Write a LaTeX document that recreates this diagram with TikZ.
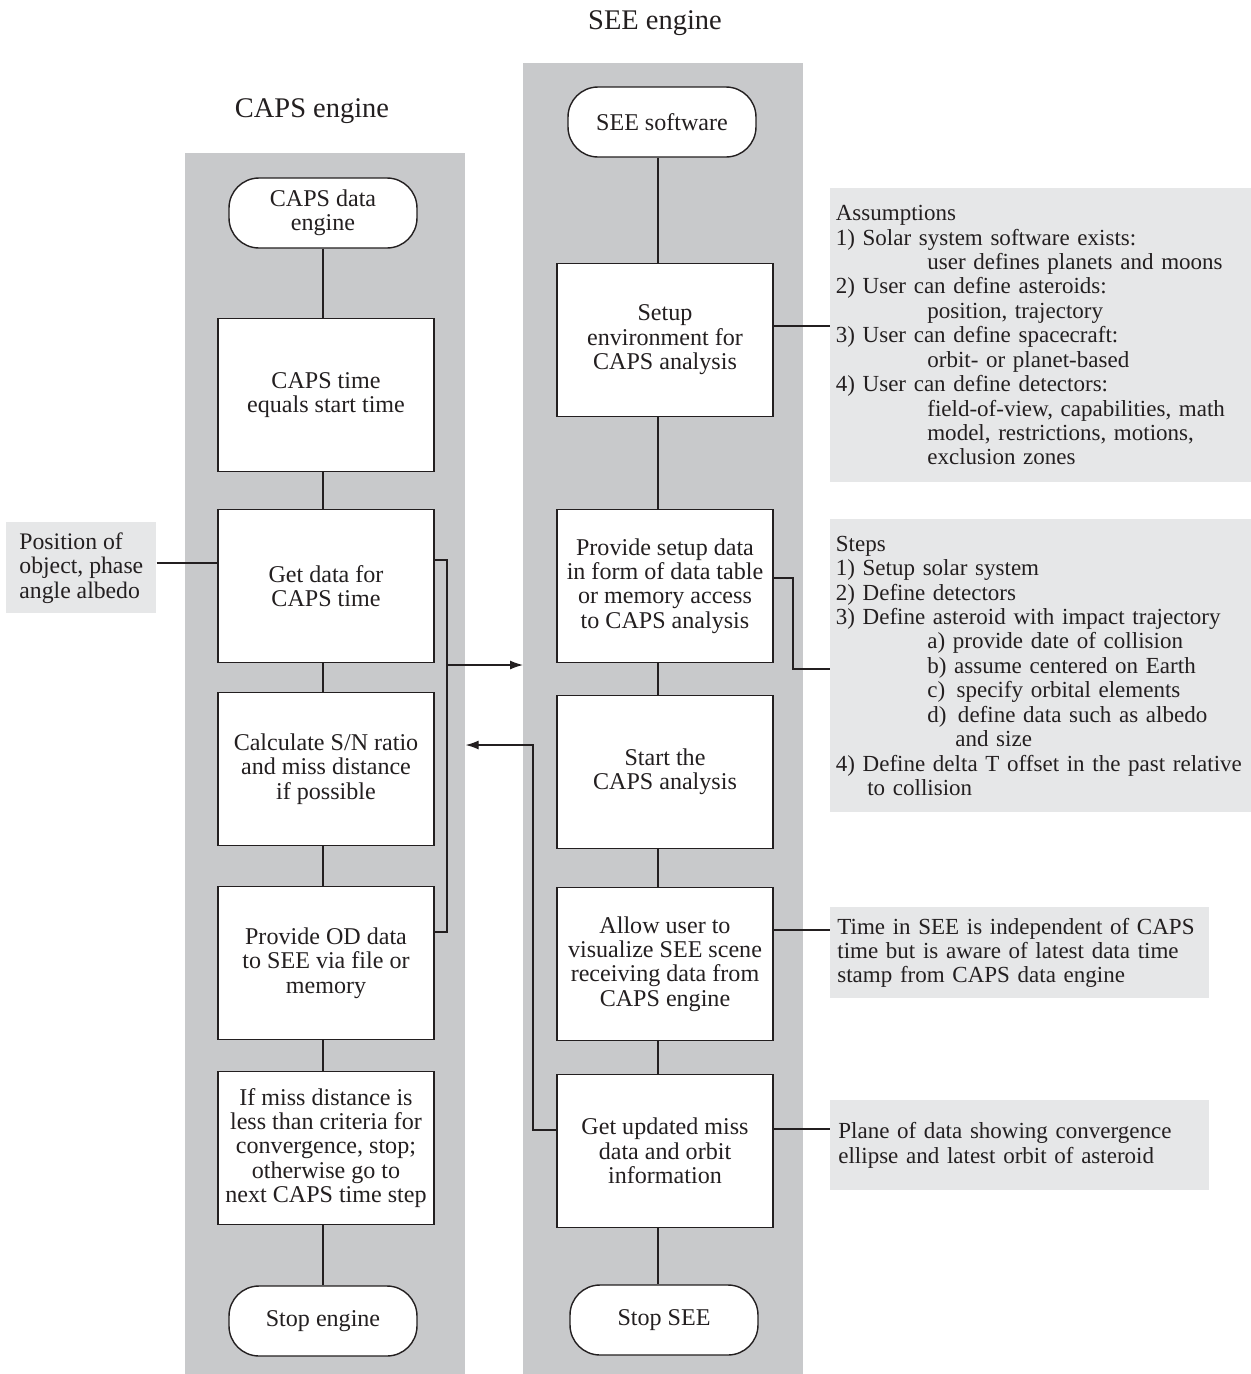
\documentclass[tikz,border=0pt]{standalone}
\usepackage{fontspec}
\setmainfont{Liberation Serif}
\usetikzlibrary{arrows.meta}
\definecolor{griscol}{RGB}{200,201,203}
\definecolor{grisnote}{RGB}{230,231,232}
\definecolor{encre}{RGB}{35,31,32}

\begin{document}
\begin{tikzpicture}[x=0.02cm, y=-0.02cm,
  every node/.style={font=\fontsize{13.7}{13.9}\selectfont, text=encre},
  colonne/.style={fill=griscol, inner sep=0pt, anchor=north west, minimum width=5.6cm},
  etape/.style={draw=encre, line width=0.8pt, fill=white, minimum width=4.32cm,
                minimum height=3.06cm, align=center, inner sep=2pt},
  terminal/.style={draw=encre, line width=0.8pt, fill=white, rounded corners=0.6cm,
                   minimum width=3.76cm, minimum height=1.4cm, align=center, inner sep=2pt},
  remarque/.style={fill=grisnote, anchor=north west, align=left, inner ysep=0pt,
                   font=\fontsize{13.1}{13.9}\selectfont},
  lien/.style={draw=encre, line width=0.7pt},
  fleche/.style={lien, -{Latex[length=0.26cm, width=0.18cm]}},
  titre/.style={font=\fontsize{16.2}{18}\selectfont}]

  % --- Cadre de la figure ---
  \useasboundingbox (0,0) rectangle (1251,1374);

  % --- Colonnes grises ---
  \node[colonne, minimum height=24.42cm] (capscol) at (185,153) {};
  \node[colonne, minimum height=26.22cm] (seecol)  at (523,63)  {};

  \node[titre] (capstitre) at (312,111) {CAPS engine};
  \node[titre] (seetitre)  at (655,23)  {SEE engine};

  % --- Moteur CAPS ---
  \node[terminal] (capsdata)   at (323,213)  {CAPS data\\engine};
  \node[etape]    (capstime)   at (326,395)  {CAPS time\\equals start time};
  \node[etape]    (getdata)    at (326,586)  {Get data for\\CAPS time};
  \node[etape]    (calcsn)     at (326,769)  {Calculate S/N ratio\\and miss distance\\if possible};
  \node[etape]    (provideod)  at (326,963)  {Provide OD data\\to SEE via file or\\memory};
  \node[etape]    (missdist)   at (326,1148) {If miss distance is\\less than criteria for\\convergence, stop;\\otherwise go to\\next CAPS time step};
  \node[terminal] (stopengine) at (323,1321) {Stop engine};

  % --- Moteur SEE ---
  \node[terminal] (seesoft)    at (662,122)  {SEE software};
  \node[etape]    (setupenv)   at (665,340)  {Setup\\environment for\\CAPS analysis};
  \node[etape]    (setupdata)  at (665,586)  {Provide setup data\\in form of data table\\or memory access\\to CAPS analysis};
  \node[etape]    (startcaps)  at (665,772)  {Start the\\CAPS analysis};
  \node[etape]    (allowuser)  at (665,964)  {Allow user to\\visualize SEE scene\\receiving data from\\CAPS engine};
  \node[etape]    (getupdated) at (665,1151) {Get updated miss\\data and orbit\\information};
  \node[terminal] (stopsee)    at (664,1320) {Stop SEE};

  % --- Notes ---
  \node[remarque, font=\fontsize{13.5}{13.9}\selectfont, minimum width=3cm, minimum height=1.82cm]
    (posnote) at (6,522) {Position of\\object, phase\\angle albedo};
  \node[remarque, text width=8.2cm, inner xsep=0.11cm, minimum height=5.88cm] (hypotheses) at (830,188)
    {Assumptions\\
     1) Solar system software exists:\\
     \hspace*{1.83cm}user defines planets and moons\\
     2) User can define asteroids:\\
     \hspace*{1.83cm}position, trajectory\\
     3) User can define spacecraft:\\
     \hspace*{1.83cm}orbit- or planet-based\\
     4) User can define detectors:\\
     \hspace*{1.83cm}field-of-view, capabilities, math\\
     \hspace*{1.83cm}model, restrictions, motions,\\
     \hspace*{1.83cm}exclusion zones};
  \node[remarque, text width=8.2cm, inner xsep=0.11cm, minimum height=5.86cm] (etapes) at (830,519)
    {Steps\\
     1) Setup solar system\\
     2) Define detectors\\
     3) Define asteroid with impact trajectory\\
     \hspace*{1.83cm}a) provide date of collision\\
     \hspace*{1.83cm}b) assume centered on Earth\\
     \hspace*{1.83cm}c)\, specify orbital elements\\
     \hspace*{1.83cm}d)\, define data such as albedo\\
     \hspace*{2.39cm}and size\\
     4) Define delta T offset in the past relative\\
     \hspace*{0.63cm}to collision};
  \node[remarque, text width=7.3cm, inner xsep=0.14cm, minimum height=1.82cm] (tempsnote) at (830,907)
    {Time in SEE is independent of CAPS\\time but is aware of latest data time\\stamp from CAPS data engine};
  \node[remarque, text width=7.26cm, inner xsep=0.16cm, minimum height=1.8cm] (plannote) at (830,1100)
    {Plane of data showing convergence\\ellipse and latest orbit of asteroid};

  % --- Liaisons verticales ---
  \coordinate (capsaxe) at (323,0);
  \coordinate (seeaxe)  at (658,0);
  \foreach \a/\b in {capsdata/capstime, capstime/getdata, getdata/calcsn,
                     calcsn/provideod, provideod/missdist, missdist/stopengine}
    \draw[lien] (\a.south -| capsaxe) -- (\b.north -| capsaxe);
  \foreach \a/\b in {seesoft/setupenv, setupenv/setupdata, setupdata/startcaps,
                     startcaps/allowuser, allowuser/getupdated, getupdated/stopsee}
    \draw[lien] (\a.south -| seeaxe) -- (\b.north -| seeaxe);

  % --- Echanges CAPS -> SEE ---
  \coordinate (busH) at (447,560);
  \coordinate (busM) at (447,665);
  \coordinate (busB) at (447,932);
  \draw[lien] (getdata.east |- busH) -- (busH) -- (busB) -- (provideod.east |- busB);
  \draw[fleche] (busM) -- (busM -| seecol.west);

  % --- Retour SEE -> CAPS ---
  \coordinate (retB) at (533,1130);
  \coordinate (retH) at (533,745);
  \draw[fleche] (getupdated.west |- retB) -- (retB) -- (retH) -- (retH -| capscol.east);

  % --- Liaisons vers les notes ---
  \coordinate (posy) at (0,563);
  \draw[lien] (posnote.east |- posy) -- (getdata.west |- posy);
  \coordinate (envy) at (0,326);
  \draw[lien] (setupenv.east |- envy) -- (hypotheses.west |- envy);
  \coordinate (dataH) at (793,578);
  \coordinate (dataB) at (793,669);
  \draw[lien] (setupdata.east |- dataH) -- (dataH) -- (dataB) -- (etapes.west |- dataB);
  \coordinate (tempsy) at (0,930);
  \draw[lien] (allowuser.east |- tempsy) -- (tempsnote.west |- tempsy);
  \coordinate (plany) at (0,1129);
  \draw[lien] (getupdated.east |- plany) -- (plannote.west |- plany);

\end{tikzpicture}
\end{document}
